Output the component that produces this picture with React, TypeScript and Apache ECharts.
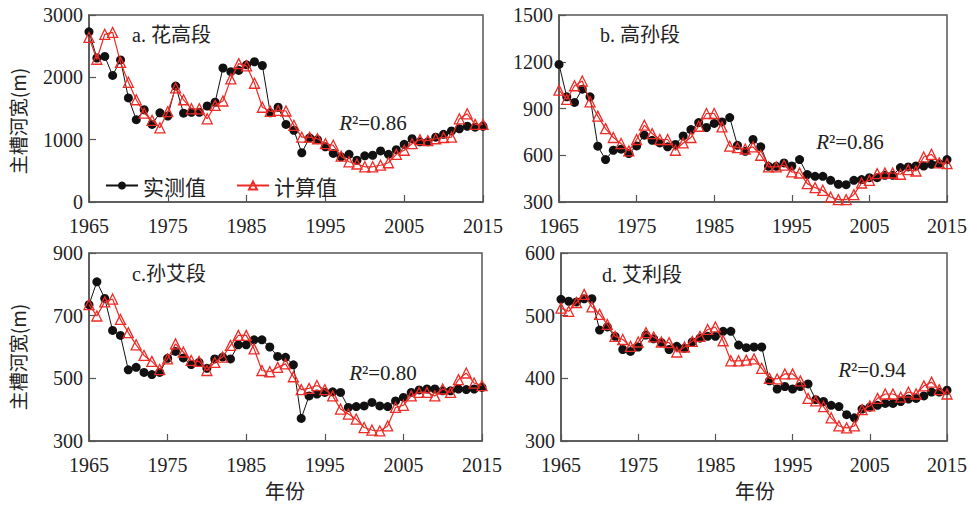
import React, { useEffect, useRef } from "react";
import * as echarts from "echarts";

const years = [
  1965, 1966, 1967, 1968, 1969, 1970, 1971, 1972, 1973, 1974,
  1975, 1976, 1977, 1978, 1979, 1980, 1981, 1982, 1983, 1984,
  1985, 1986, 1987, 1988, 1989, 1990, 1991, 1992, 1993, 1994,
  1995, 1996, 1997, 1998, 1999, 2000, 2001, 2002, 2003, 2004,
  2005, 2006, 2007, 2008, 2009, 2010, 2011, 2012, 2013, 2014, 2015,
];

// a. 花高段
const aMeasured = [
  2730, 2310, 2335, 2030, 2280, 1670, 1320, 1480, 1245, 1430,
  1380, 1860, 1425, 1440, 1440, 1540, 1600, 2150, 2090, 2110,
  2200, 2250, 2190, 1430, 1520, 1245, 1150, 790, 1030, 1000,
  885, 780, 725, 765, 670, 740, 750, 820, 765, 840,
  925, 1015, 965, 965, 1040, 1085, 1140, 1175, 1215, 1200, 1215,
];
const aCalc = [
  2640, 2290, 2690, 2720, 2240, 1920, 1640, 1425, 1310, 1190,
  1450, 1830, 1640, 1495, 1495, 1335, 1550, 1620, 1975, 2220,
  2185, 1905, 1520, 1455, 1470, 1460, 1230, 1040, 1040, 1015,
  935, 910, 735, 645, 610, 565, 565, 590, 630, 765,
  830, 935, 1000, 985, 1015, 1035, 1040, 1335, 1415, 1245, 1245,
];

// b. 高孙段
const bMeasured = [
  1183, 975, 939, 1024, 975, 658, 572, 632, 639, 611,
  660, 729, 696, 679, 654, 669, 724, 765, 810, 778,
  804, 814, 842, 664, 625, 701, 654, 529, 529, 551,
  531, 572, 476, 465, 465, 439, 414, 411, 439, 444,
  456, 456, 471, 471, 521, 525, 531, 531, 542, 546, 572,
];
const bCalc = [
  1018, 958, 1046, 1076, 943, 851, 771, 714, 675, 628,
  701, 793, 739, 701, 701, 632, 679, 714, 786, 868,
  868, 782, 658, 649, 640, 654, 600, 525, 525, 536,
  493, 486, 418, 392, 375, 332, 315, 315, 347, 422,
  439, 482, 486, 486, 478, 508, 499, 589, 606, 551, 546,
];

// c. 孙艾段
const cMeasured = [
  735, 808, 755, 653, 637, 527, 535, 519, 512, 519,
  564, 586, 565, 544, 551, 532, 562, 568, 562, 607,
  607, 623, 623, 600, 570, 567, 543, 372, 444, 450,
  455, 457, 455, 407, 410, 412, 423, 412, 410, 428,
  439, 455, 463, 466, 466, 460, 460, 466, 464, 466, 471,
];
const cCalc = [
  735, 699, 744, 753, 688, 646, 607, 573, 554, 528,
  562, 610, 584, 557, 554, 525, 551, 568, 605, 637,
  637, 594, 525, 521, 535, 546, 505, 464, 468, 477,
  464, 444, 402, 386, 370, 343, 335, 332, 348, 407,
  414, 444, 455, 455, 444, 466, 455, 496, 517, 485, 477,
];

// d. 艾利段
const dMeasured = [
  526, 523, 522, 527, 527, 477, 482, 467, 446, 443,
  450, 469, 463, 457, 446, 451, 448, 458, 464, 467,
  467, 475, 475, 453, 449, 450, 450, 396, 383, 387,
  383, 387, 391, 366, 363, 357, 355, 342, 337, 351,
  354, 357, 360, 360, 363, 367, 368, 372, 378, 378, 381,
];
const dCalc = [
  512, 507, 521, 534, 514, 502, 486, 467, 462, 451,
  458, 473, 466, 458, 457, 442, 450, 459, 467, 478,
  482, 460, 428, 428, 429, 431, 416, 400, 399, 407,
  407, 396, 368, 364, 355, 337, 324, 321, 324, 350,
  356, 368, 375, 375, 370, 378, 375, 388, 394, 382, 375,
];

const panelTitles = ["a. 花高段", "b. 高孙段", "c.孙艾段", "d. 艾利段"];
const r2Labels = ["0.86", "0.86", "0.80", "0.94"];
const yMins = [0, 300, 300, 300];
const yMaxs = [3000, 1500, 900, 600];
const yIntervals = [1000, 300, 200, 100];
const seriesNames = ["实测值", "计算值"];
const yAxisTitle = "主槽河宽(m)";
const xAxisTitle = "年份";

const measuredSets = [aMeasured, bMeasured, cMeasured, dMeasured];
const calcSets = [aCalc, bCalc, cCalc, dCalc];

const SERIF = '"Liberation Serif", "Times New Roman", serif';
const CJK = '"Noto Sans CJK SC", sans-serif';
const MIXED = '"Liberation Serif", "Noto Sans CJK SC", serif';
const AXIS = "#555";
const TEXT = "#222";
const RED = "#ee2b25";

const grids = [
  { left: 89, top: 15, width: 394, height: 187 },
  { left: 559, top: 15, width: 392, height: 187 },
  { left: 89, top: 253, width: 393, height: 188 },
  { left: 561, top: 253, width: 391, height: 188 },
];
const titlePos = [
  [132, 35],
  [600, 35],
  [132, 274],
  [602, 275],
];
const r2Pos = [
  [373, 123],
  [850, 142],
  [383, 373],
  [872, 370],
];
const yTitlePos = [
  [17, 121],
  [17, 357],
];
const xTitlePos = [
  [285, 490],
  [755, 490],
];

export default function App() {
  const ref = useRef<HTMLDivElement>(null);

  useEffect(() => {
    if (!ref.current) return;
    const chart = echarts.init(ref.current, undefined, { renderer: "svg" });

    const xAxes = grids.map((_, i) => ({
      type: "value",
      gridIndex: i,
      min: 1965,
      max: 2015,
      interval: 10,
      axisLine: { show: true, lineStyle: { color: AXIS, width: 1.5 } },
      axisTick: { show: true, inside: true, length: 7, lineStyle: { color: AXIS, width: 1.2 } },
      axisLabel: {
        margin: 14,
        fontSize: 20,
        fontFamily: SERIF,
        color: TEXT,
        showMinLabel: true,
        showMaxLabel: true,
        formatter: (v: number) => String(v),
      },
      splitLine: { show: false },
    }));

    const yAxes = grids.map((_, i) => ({
      type: "value",
      gridIndex: i,
      min: yMins[i],
      max: yMaxs[i],
      interval: yIntervals[i],
      axisLine: { show: true, lineStyle: { color: AXIS, width: 1.5 } },
      axisTick: { show: true, inside: true, length: 7, lineStyle: { color: AXIS, width: 1.2 } },
      axisLabel: {
        margin: 6,
        fontSize: 20,
        fontFamily: SERIF,
        color: TEXT,
        showMinLabel: true,
        showMaxLabel: true,
        formatter: (v: number) => String(v),
      },
      splitLine: { show: false },
    }));

    const series: any[] = [];
    grids.forEach((_, i) => {
      series.push({
        name: seriesNames[0],
        type: "line",
        xAxisIndex: i,
        yAxisIndex: i,
        data: years.map((y, k) => [y, measuredSets[i][k]]),
        symbol: "circle",
        symbolSize: 9,
        itemStyle: { color: "#111" },
        lineStyle: { color: "#111", width: 1 },
        z: 2,
      });
      series.push({
        name: seriesNames[1],
        type: "line",
        xAxisIndex: i,
        yAxisIndex: i,
        data: years.map((y, k) => [y, calcSets[i][k]]),
        symbol: "triangle",
        symbolSize: 10,
        itemStyle: { color: "rgba(255,255,255,0)", borderColor: RED, borderWidth: 1.3 },
        lineStyle: { color: RED, width: 1.2 },
        z: 3,
      });
    });

    const graphics: any[] = [];
    titlePos.forEach((p, i) => {
      graphics.push({
        type: "text",
        x: p[0],
        y: p[1],
        style: {
          text: panelTitles[i],
          font: `20px ${MIXED}`,
          fill: TEXT,
          textAlign: "left",
          textVerticalAlign: "middle",
          align: "left",
          verticalAlign: "middle",
        },
      });
    });
    r2Pos.forEach((p, i) => {
      graphics.push({
        type: "text",
        x: p[0],
        y: p[1],
        style: {
          text: `{i|R}{n|²=${r2Labels[i]}}`,
          rich: {
            i: { fontFamily: SERIF, fontSize: 21, fontStyle: "italic", fill: TEXT },
            n: { fontFamily: SERIF, fontSize: 21, fill: TEXT },
          },
          textAlign: "center",
          textVerticalAlign: "middle",
          align: "center",
          verticalAlign: "middle",
        },
      });
    });
    yTitlePos.forEach((p) => {
      graphics.push({
        type: "text",
        x: p[0],
        y: p[1],
        rotation: Math.PI / 2,
        style: {
          text: yAxisTitle,
          font: `19px ${CJK}`,
          fill: TEXT,
          textAlign: "center",
          textVerticalAlign: "middle",
          align: "center",
          verticalAlign: "middle",
        },
      });
    });
    xTitlePos.forEach((p) => {
      graphics.push({
        type: "text",
        x: p[0],
        y: p[1],
        style: {
          text: xAxisTitle,
          font: `20px ${CJK}`,
          fill: TEXT,
          textAlign: "center",
          textVerticalAlign: "middle",
          align: "center",
          verticalAlign: "middle",
        },
      });
    });

    chart.setOption({
      animation: false,
      backgroundColor: "#fff",
      grid: grids.map((g) => ({
        ...g,
        show: true,
        borderColor: AXIS,
        borderWidth: 1.5,
        backgroundColor: "transparent",
      })),
      xAxis: xAxes,
      yAxis: yAxes,
      legend: {
        data: seriesNames,
        left: 100,
        top: 170,
        itemWidth: 32,
        itemHeight: 10,
        itemGap: 30,
        textStyle: { fontFamily: CJK, fontSize: 21, color: TEXT },
      },
      series,
      graphic: graphics,
    });

    return () => chart.dispose();
  }, []);

  return (
    <div
      ref={ref}
      style={{ position: "fixed", left: 0, top: 0, width: 970, height: 505, background: "#fff" }}
    />
  );
}
